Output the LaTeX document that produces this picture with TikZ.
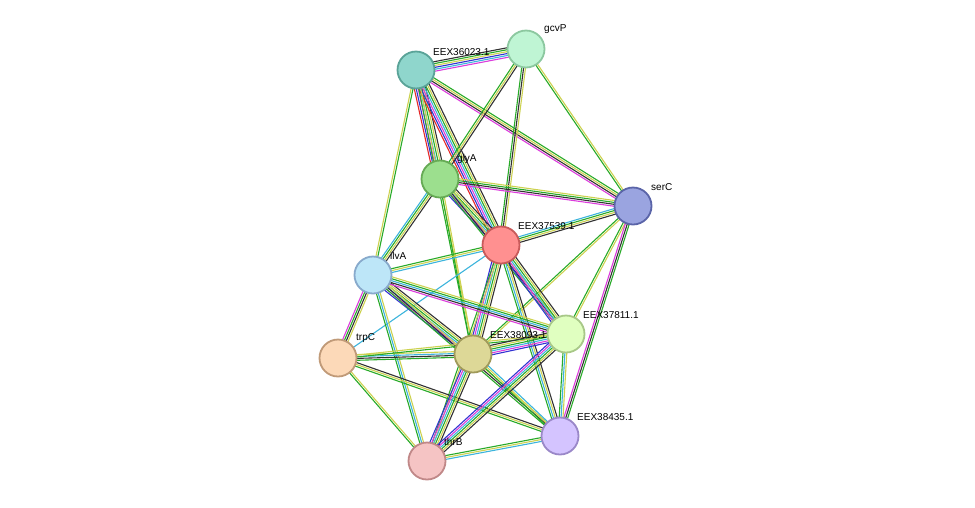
\documentclass[tikz,border=0pt]{standalone}
\usepackage{fontspec}
\setmainfont{Liberation Sans}
\usetikzlibrary{calc}
\definecolor{tg}{RGB}{40,170,40}
\definecolor{ty}{RGB}{205,210,80}
\definecolor{tc}{RGB}{60,180,220}
\definecolor{tm}{RGB}{220,60,220}
\definecolor{tb}{RGB}{50,50,210}
\definecolor{tk}{RGB}{50,50,50}
\definecolor{tr}{RGB}{230,40,40}
\newcommand\sedge[4]{%
  \foreach \cc [count=\i] in {#4} {
    \pgfmathsetmacro\off{(\i-(#3+1)/2)*1.9}
    \draw[line width=1.1pt,\cc] ($(#1)!\off pt!90:(#2)$) -- ($(#2)!\off pt!-90:(#1)$);
  }}
\tikzset{nd/.style={circle,minimum size=37pt,line width=1.8pt,inner sep=0pt},
 lb/.style={anchor=south west,font=\fontsize{10}{11}\selectfont,inner sep=1pt}}
\begin{document}
\begin{tikzpicture}[x=1pt,y=-1pt]
\useasboundingbox (0,0) rectangle (975,507);
\coordinate (a) at (416,70);
\coordinate (g) at (526,49);
\coordinate (y) at (440,179);
\coordinate (s) at (633,206);
\coordinate (e) at (501,245);
\coordinate (i) at (373,275);
\coordinate (f) at (566,334);
\coordinate (t) at (338,358);
\coordinate (k) at (473,354);
\coordinate (l) at (560,436);
\coordinate (h) at (427,461);
\sedge{a}{g}{6}{tm,tc,tb,ty,tg,tk}
\sedge{a}{y}{7}{tr,tb,tm,tc,tg,ty,tk}
\sedge{a}{e}{7}{tr,tb,tm,tc,tg,ty,tk}
\sedge{a}{s}{4}{tm,tk,ty,tg}
\sedge{a}{i}{2}{ty,tg}
\sedge{a}{k}{2}{tg,ty}
\sedge{g}{y}{3}{tg,ty,tk}
\sedge{g}{e}{3}{tg,tk,ty}
\sedge{g}{s}{2}{tg,ty}
\sedge{y}{s}{4}{tm,tk,tg,ty}
\sedge{y}{e}{6}{tb,tm,tc,tg,ty,tk}
\sedge{y}{i}{4}{tc,tg,ty,tk}
\sedge{y}{k}{2}{tg,ty}
\sedge{y}{f}{3}{tg,tk,ty}
\sedge{s}{e}{4}{tc,tg,ty,tk}
\sedge{s}{f}{2}{tg,ty}
\sedge{s}{k}{2}{tg,ty}
\sedge{s}{l}{3}{tm,tk,tg}
\sedge{e}{i}{3}{tg,ty,tc}
\sedge{e}{k}{6}{tb,tm,tc,tg,ty,tk}
\sedge{e}{f}{6}{tb,tm,tc,tg,ty,tk}
\sedge{e}{l}{4}{tg,tc,ty,tk}
\sedge{e}{h}{2}{tg,ty}
\sedge{e}{t}{1}{tc}
\sedge{i}{t}{4}{tm,tg,tk,ty}
\sedge{i}{k}{6}{tb,tm,tc,tg,ty,tk}
\sedge{i}{f}{5}{tm,tk,tc,tg,ty}
\sedge{i}{l}{3}{tg,tk,ty}
\sedge{i}{h}{3}{tg,tc,ty}
\sedge{t}{k}{4}{tg,tk,tc,ty}
\sedge{t}{f}{2}{tg,ty}
\sedge{t}{l}{3}{tg,ty,tk}
\sedge{t}{h}{2}{tg,ty}
\sedge{k}{f}{6}{tb,tm,tc,tg,ty,tk}
\sedge{k}{l}{3}{tg,ty,tc}
\sedge{k}{h}{6}{tb,tm,tc,tg,ty,tk}
\sedge{f}{l}{3}{tg,tc,ty}
\sedge{f}{h}{6}{tb,tm,tc,tg,ty,tk}
\sedge{l}{h}{3}{tg,ty,tc}
\node[nd,fill={rgb,255:red,143;green,214;blue,204},draw={rgb,255:red,90;green,163;blue,152}] (na) at (a) {};
\node[lb] at (432,57) {EEX36023.1};
\node[nd,fill={rgb,255:red,191;green,245;blue,212},draw={rgb,255:red,140;green,200;blue,160}] (ng) at (g) {};
\node[lb] at (543,35) {gcvP};
\node[nd,fill={rgb,255:red,156;green,223;blue,142},draw={rgb,255:red,102;green,170;blue,85}] (ny) at (y) {};
\node[lb] at (456,165) {glyA};
\node[nd,fill={rgb,255:red,154;green,164;blue,224},draw={rgb,255:red,90;green,100;blue,168}] (ns) at (s) {};
\node[lb] at (650,192) {serC};
\node[nd,fill={rgb,255:red,255;green,144;blue,144},draw={rgb,255:red,200;green,90;blue,90}] (ne) at (e) {};
\node[lb] at (517,231) {EEX37539.1};
\node[nd,fill={rgb,255:red,189;green,230;blue,248},draw={rgb,255:red,136;green,170;blue,204}] (ni) at (i) {};
\node[lb] at (389,261) {ilvA};
\node[nd,fill={rgb,255:red,252;green,217;blue,184},draw={rgb,255:red,192;green,154;blue,120}] (nt) at (t) {};
\node[lb] at (355,344) {trpC};
\node[nd,fill={rgb,255:red,221;green,216;blue,151},draw={rgb,255:red,160;green,154;blue,90}] (nk) at (k) {};
\node[lb] at (489,340) {EEX38093.1};
\node[nd,fill={rgb,255:red,224;green,255;blue,192},draw={rgb,255:red,168;green,200;blue,136}] (nf) at (f) {};
\node[lb] at (582,320) {EEX37811.1};
\node[nd,fill={rgb,255:red,212;green,196;blue,255},draw={rgb,255:red,154;green,136;blue,200}] (nl) at (l) {};
\node[lb] at (576,422) {EEX38435.1};
\node[nd,fill={rgb,255:red,245;green,196;blue,196},draw={rgb,255:red,192;green,136;blue,136}] (nh) at (h) {};
\node[lb] at (443,447) {thrB};
\end{tikzpicture}
\end{document}
